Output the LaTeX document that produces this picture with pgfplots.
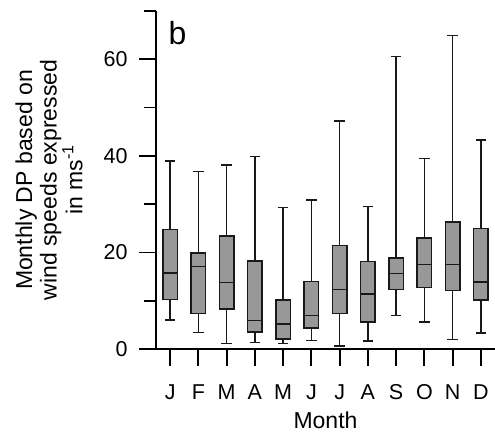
\documentclass[border=0pt]{standalone}
\usepackage{fontspec}
\setmainfont{Liberation Sans}
\usepackage{pgfplots}
\pgfplotsset{compat=1.18}
\usepgfplotslibrary{statistics}
\definecolor{boxgray}{RGB}{152,152,152}
\definecolor{edge}{RGB}{25,25,25}
\pgfplotsset{mybox/.style={fill=boxgray, draw=edge, line width=1.5pt, solid}}
\begin{document}
\begin{tikzpicture}
\path[use as bounding box] (0,0) rectangle (495pt,440pt);
\begin{axis}[
  at={(156pt,91pt)}, anchor=south west,
  scale only axis, width=339pt, height=338pt,
  xmin=0.5, xmax=12.5, ymin=0, ymax=70,
  clip=false,
  axis x line=bottom, axis y line=left,
  axis line style={-, line width=1.8pt, black},
  xtick={1,2,3,4,5,6,7,8,9,10,11,12},
  xticklabels={J,F,M,A,M,J,J,A,S,O,N,D},
  ytick={0,20,40,60}, minor ytick={10,30,50,70},
  tick align=outside,
  major tick length=17pt, minor tick length=12pt,
  tick style={line width=1.8pt, black},
  /pgf/number format/assume math mode=true,
  xticklabel style={font=\fontsize{21.5}{24}\selectfont},
  yticklabel style={font=\fontsize{21.5}{24}\selectfont},
  xticklabel shift=15pt,
  yticklabel shift=8pt,
  xlabel={Month},
  xlabel style={font=\fontsize{23}{26}\selectfont, at={(axis description cs:0.5,-0.212)}, anchor=center},
  ylabel={Monthly DP based on\\wind speeds expressed\\in ms\textsuperscript{-1}},
  ylabel style={font=\fontsize{23}{24.5}\selectfont, align=center, at={(axis description cs:-0.206,0.5)}, anchor=south},
  boxplot/draw direction=y,
  boxplot/box extend=0.52,
  boxplot/whisker extend=0.38,
  boxplot/every whisker/.style={line width=1.5pt, draw=edge},
  boxplot/every median/.style={line width=1.5pt, draw=edge},
  boxplot/every box/.style={line width=1.5pt, draw=edge, fill=boxgray},
]
\addplot[mybox, boxplot prepared={draw position=1, lower whisker=6.0, lower quartile=10.3, median=15.7, upper quartile=24.8, upper whisker=38.9}] coordinates {};
\addplot[mybox, boxplot prepared={draw position=2, lower whisker=3.4, lower quartile=7.4, median=17.1, upper quartile=19.9, upper whisker=36.8}] coordinates {};
\addplot[mybox, boxplot prepared={draw position=3, lower whisker=1.1, lower quartile=8.3, median=13.8, upper quartile=23.4, upper whisker=38.1}] coordinates {};
\addplot[mybox, boxplot prepared={draw position=4, lower whisker=1.3, lower quartile=3.5, median=5.9, upper quartile=18.2, upper whisker=39.9}] coordinates {};
\addplot[mybox, boxplot prepared={draw position=5, lower whisker=1.1, lower quartile=2.1, median=5.2, upper quartile=10.1, upper whisker=29.3}] coordinates {};
\addplot[mybox, boxplot prepared={draw position=6, lower whisker=1.8, lower quartile=4.4, median=6.9, upper quartile=14.0, upper whisker=30.9}] coordinates {};
\addplot[mybox, boxplot prepared={draw position=7, lower whisker=0.6, lower quartile=7.4, median=12.3, upper quartile=21.4, upper whisker=47.2}] coordinates {};
\addplot[mybox, boxplot prepared={draw position=8, lower whisker=1.7, lower quartile=5.6, median=11.4, upper quartile=18.1, upper whisker=29.5}] coordinates {};
\addplot[mybox, boxplot prepared={draw position=9, lower whisker=6.9, lower quartile=12.3, median=15.6, upper quartile=18.8, upper whisker=60.6}] coordinates {};
\addplot[mybox, boxplot prepared={draw position=10, lower whisker=5.6, lower quartile=12.7, median=17.5, upper quartile=23.0, upper whisker=39.5}] coordinates {};
\addplot[mybox, boxplot prepared={draw position=11, lower whisker=2.0, lower quartile=12.1, median=17.5, upper quartile=26.3, upper whisker=64.9}] coordinates {};
\addplot[mybox, boxplot prepared={draw position=12, lower whisker=3.3, lower quartile=10.1, median=13.9, upper quartile=25.0, upper whisker=43.3}] coordinates {};
\node[font=\fontsize{32}{34}\selectfont, anchor=center] at (axis cs:1.26,65.5) {b};
\end{axis}
\end{tikzpicture}
\end{document}
